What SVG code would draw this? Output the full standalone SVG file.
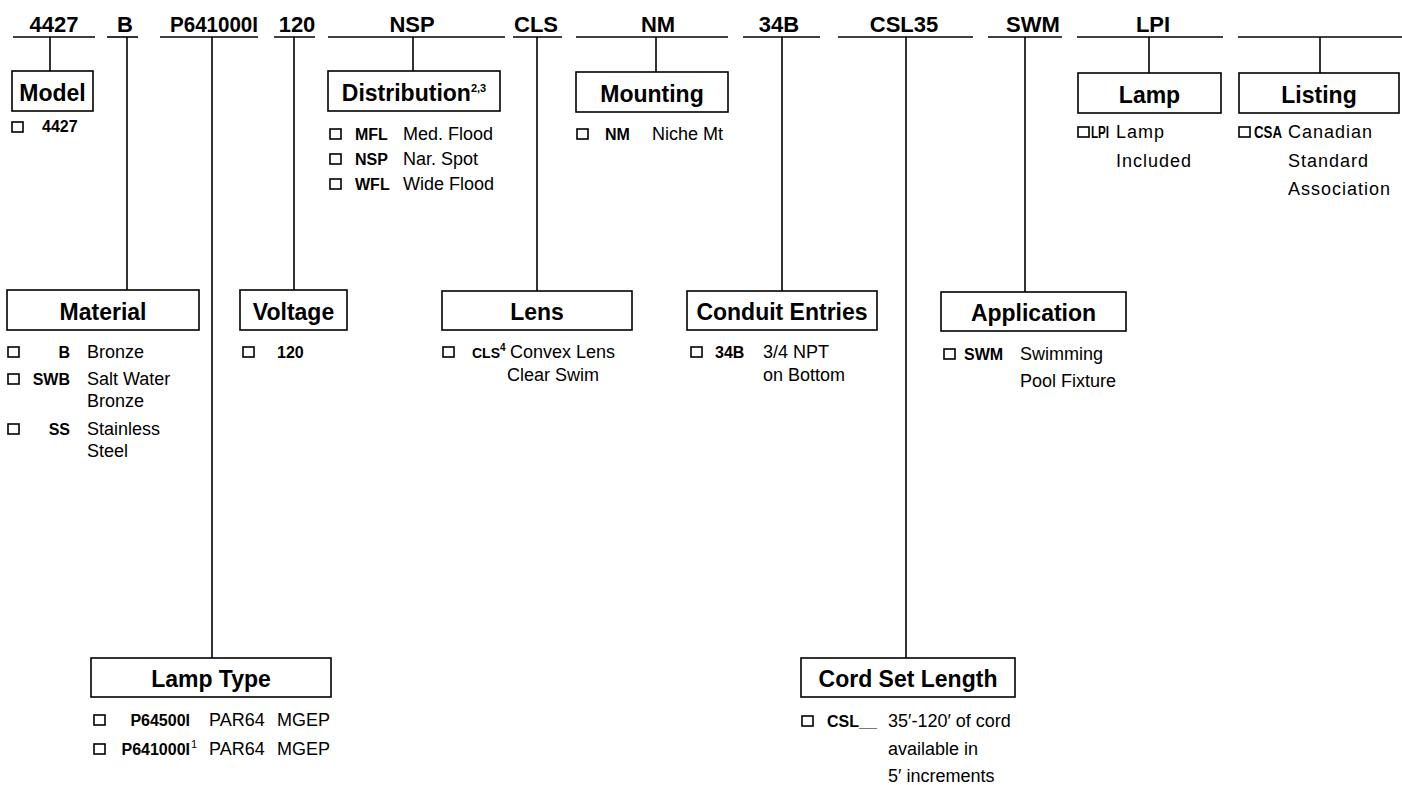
<svg xmlns="http://www.w3.org/2000/svg" width="1402" height="785" viewBox="0 0 1402 785">
<style>
  text { font-family: "Liberation Sans", Arial, Helvetica, sans-serif; fill: #000; }
  .hdr { font-size: 22px; font-weight: bold; text-anchor: middle; }
  .ttl { font-size: 23px; font-weight: bold; text-anchor: middle; }
  .code { font-size: 16px; font-weight: bold; }
  .codeR { font-size: 16px; font-weight: bold; text-anchor: end; }
  .desc { font-size: 18px; }
  .wide { letter-spacing: 1px; }
  .box { fill: #fff; stroke: #000; stroke-width: 1.6; }
  .chk { fill: none; stroke: #000; stroke-width: 1.6; }
  .ln { stroke: #000; stroke-width: 1.6; fill: none; }
  .sup { font-size: 11px; }
</style>
<rect width="1402" height="785" fill="#fff"/>

<g id="connectors">
  <!-- header underlines -->
  <line class="ln" x1="13" y1="37" x2="95" y2="37"/>
  <line class="ln" x1="107" y1="37" x2="138" y2="37"/>
  <line class="ln" x1="160" y1="37" x2="258" y2="37"/>
  <line class="ln" x1="274" y1="37" x2="315" y2="37"/>
  <line class="ln" x1="328" y1="37" x2="505" y2="37"/>
  <line class="ln" x1="513" y1="37" x2="562" y2="37"/>
  <line class="ln" x1="576" y1="37" x2="728" y2="37"/>
  <line class="ln" x1="743" y1="37" x2="820" y2="37"/>
  <line class="ln" x1="838" y1="37" x2="973" y2="37"/>
  <line class="ln" x1="988" y1="37" x2="1062" y2="37"/>
  <line class="ln" x1="1077" y1="37" x2="1223" y2="37"/>
  <line class="ln" x1="1238" y1="37" x2="1402" y2="37"/>
  <!-- verticals -->
  <line class="ln" x1="50" y1="37" x2="50" y2="71"/>
  <line class="ln" x1="127" y1="37" x2="127" y2="290"/>
  <line class="ln" x1="212" y1="37" x2="212" y2="658"/>
  <line class="ln" x1="294" y1="37" x2="294" y2="290"/>
  <line class="ln" x1="413" y1="37" x2="413" y2="71"/>
  <line class="ln" x1="537" y1="37" x2="537" y2="291"/>
  <line class="ln" x1="656" y1="37" x2="656" y2="72"/>
  <line class="ln" x1="782" y1="37" x2="782" y2="291"/>
  <line class="ln" x1="906" y1="37" x2="906" y2="658"/>
  <line class="ln" x1="1025" y1="37" x2="1025" y2="292"/>
  <line class="ln" x1="1149" y1="37" x2="1149" y2="73"/>
  <line class="ln" x1="1320" y1="37" x2="1320" y2="73"/>
</g>

<g id="header">
  <text class="hdr" x="54" y="32">4427</text>
  <text class="hdr" x="125" y="32">B</text>
  <text class="hdr" x="214" y="32" textLength="88" lengthAdjust="spacingAndGlyphs">P641000I</text>
  <text class="hdr" x="297" y="32">120</text>
  <text class="hdr" x="412" y="32">NSP</text>
  <text class="hdr" x="536" y="32">CLS</text>
  <text class="hdr" x="658" y="32">NM</text>
  <text class="hdr" x="779" y="32">34B</text>
  <text class="hdr" x="904" y="32">CSL35</text>
  <text class="hdr" x="1033" y="32">SWM</text>
  <text class="hdr" x="1153" y="32">LPI</text>
</g>

<g id="model">
  <rect class="box" x="12" y="71" width="81" height="40"/>
  <text class="ttl" x="52.5" y="101">Model</text>
  <rect class="chk" x="12" y="122" width="11" height="10"/>
  <text class="code" x="42" y="132">4427</text>
</g>

<g id="distribution">
  <rect class="box" x="328" y="71" width="172" height="40"/>
  <text class="ttl" x="414" y="101">Distribution<tspan class="sup" dy="-9">2,3</tspan></text>
  <rect class="chk" x="330" y="129" width="11" height="10"/>
  <text class="code" x="355" y="140">MFL</text>
  <text class="desc" x="403" y="140">Med. Flood</text>
  <rect class="chk" x="330" y="154" width="11" height="10"/>
  <text class="code" x="355" y="165">NSP</text>
  <text class="desc" x="403" y="165">Nar. Spot</text>
  <rect class="chk" x="330" y="179" width="11" height="10"/>
  <text class="code" x="355" y="190">WFL</text>
  <text class="desc" x="403" y="190">Wide Flood</text>
</g>

<g id="mounting">
  <rect class="box" x="576" y="72" width="152" height="40"/>
  <text class="ttl" x="652" y="102">Mounting</text>
  <rect class="chk" x="577" y="129" width="11" height="10"/>
  <text class="code" x="605" y="140">NM</text>
  <text class="desc" x="652" y="140">Niche Mt</text>
</g>

<g id="lamp">
  <rect class="box" x="1078" y="73" width="143" height="40"/>
  <text class="ttl" x="1149.5" y="103">Lamp</text>
  <rect class="chk" x="1078" y="127" width="11" height="10"/>
  <text class="code" x="1091" y="138" textLength="18" lengthAdjust="spacingAndGlyphs">LPI</text>
  <text class="desc wide" x="1116" y="138">Lamp</text>
  <text class="desc wide" x="1116" y="167">Included</text>
</g>

<g id="listing">
  <rect class="box" x="1239" y="73" width="160" height="40"/>
  <text class="ttl" x="1319" y="103">Listing</text>
  <rect class="chk" x="1239" y="127" width="11" height="10"/>
  <text class="code" x="1254" y="138" textLength="28" lengthAdjust="spacingAndGlyphs">CSA</text>
  <text class="desc wide" x="1288" y="138">Canadian</text>
  <text class="desc wide" x="1288" y="167">Standard</text>
  <text class="desc wide" x="1288" y="195">Association</text>
</g>

<g id="material">
  <rect class="box" x="7" y="290" width="192" height="40"/>
  <text class="ttl" x="103" y="320">Material</text>
  <rect class="chk" x="8" y="347" width="11" height="10"/>
  <text class="codeR" x="70" y="358">B</text>
  <text class="desc" x="87" y="358">Bronze</text>
  <rect class="chk" x="8" y="374" width="11" height="10"/>
  <text class="codeR" x="70" y="385">SWB</text>
  <text class="desc" x="87" y="385">Salt Water</text>
  <text class="desc" x="87" y="407">Bronze</text>
  <rect class="chk" x="8" y="424" width="11" height="10"/>
  <text class="codeR" x="70" y="435">SS</text>
  <text class="desc" x="87" y="435">Stainless</text>
  <text class="desc" x="87" y="457">Steel</text>
</g>

<g id="voltage">
  <rect class="box" x="240" y="290" width="107" height="40"/>
  <text class="ttl" x="293.5" y="320">Voltage</text>
  <rect class="chk" x="243" y="347" width="11" height="10"/>
  <text class="code" x="277" y="358">120</text>
</g>

<g id="lens">
  <rect class="box" x="442" y="291" width="190" height="39"/>
  <text class="ttl" x="537" y="320">Lens</text>
  <rect class="chk" x="443" y="347" width="11" height="10"/>
  <text x="472" y="358" font-size="14" font-weight="bold">CLS<tspan font-size="10" dy="-7">4</tspan></text>
  <text class="desc" x="510" y="358">Convex Lens</text>
  <text class="desc" x="507" y="381">Clear Swim</text>
</g>

<g id="conduit-entries">
  <rect class="box" x="687" y="291" width="190" height="39"/>
  <text class="ttl" x="782" y="320">Conduit Entries</text>
  <rect class="chk" x="691" y="347" width="11" height="10"/>
  <text class="code" x="715" y="358">34B</text>
  <text class="desc" x="763" y="358">3/4 NPT</text>
  <text class="desc" x="763" y="381">on Bottom</text>
</g>

<g id="application">
  <rect class="box" x="941" y="292" width="185" height="39"/>
  <text class="ttl" x="1033.5" y="321">Application</text>
  <rect class="chk" x="944" y="349" width="11" height="10"/>
  <text class="code" x="964" y="360">SWM</text>
  <text class="desc" x="1020" y="360">Swimming</text>
  <text class="desc" x="1020" y="387">Pool Fixture</text>
</g>

<g id="lamp-type">
  <rect class="box" x="91" y="658" width="240" height="39"/>
  <text class="ttl" x="211" y="687">Lamp Type</text>
  <rect class="chk" x="94" y="715" width="11" height="10"/>
  <text class="codeR" x="190" y="726">P64500I</text>
  <text class="desc" x="209" y="726">PAR64</text>
  <text class="desc" x="277" y="726">MGEP</text>
  <rect class="chk" x="94" y="744" width="11" height="10"/>
  <text class="codeR" x="190" y="755">P641000I</text>
  <text class="sup" x="191" y="748">1</text>
  <text class="desc" x="209" y="755">PAR64</text>
  <text class="desc" x="277" y="755">MGEP</text>
</g>

<g id="cord-set-length">
  <rect class="box" x="801" y="658" width="214" height="39"/>
  <text class="ttl" x="908" y="687">Cord Set Length</text>
  <rect class="chk" x="802" y="716" width="11" height="10"/>
  <text class="code" x="827" y="727">CSL__</text>
  <text class="desc" x="888" y="727">35′-120′ of cord</text>
  <text class="desc" x="888" y="755">available in</text>
  <text class="desc" x="888" y="782">5′ increments</text>
</g>
</svg>
